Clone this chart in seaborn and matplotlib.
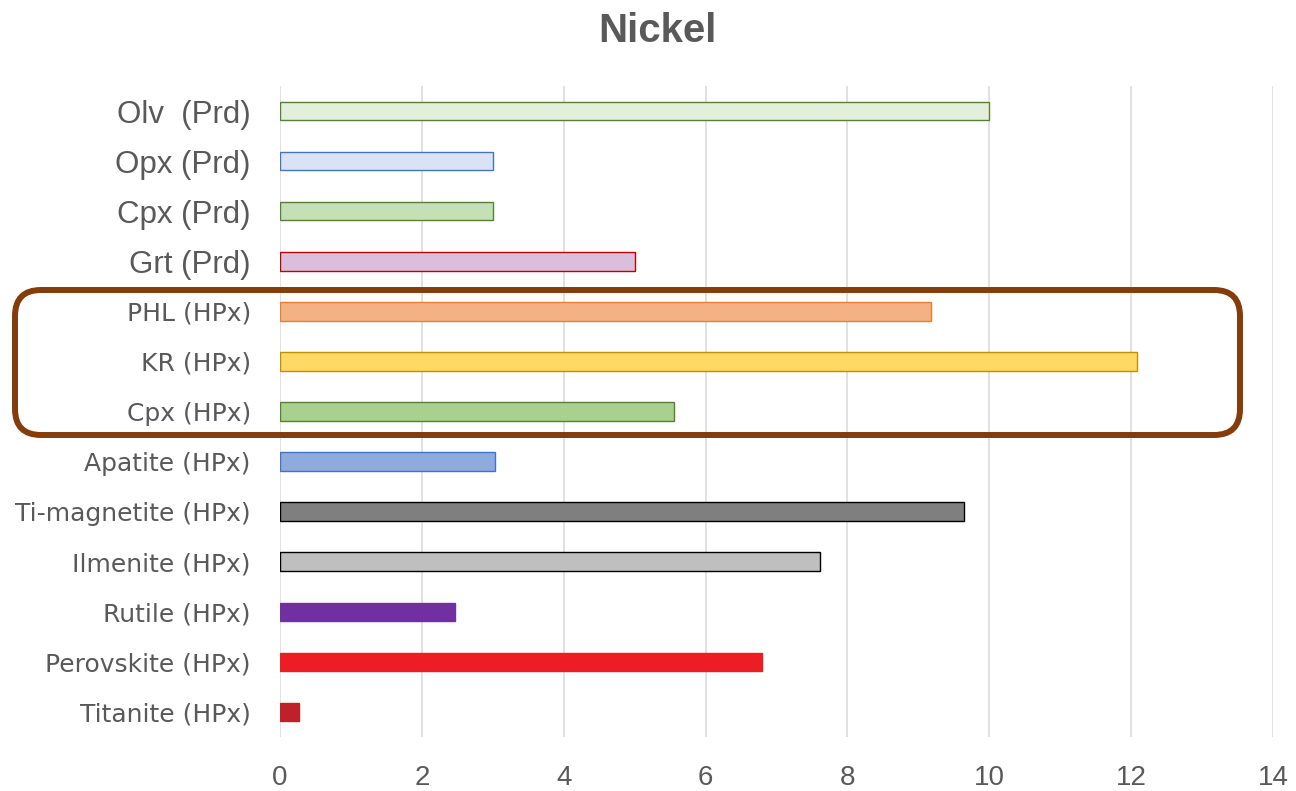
import matplotlib
matplotlib.use("Agg")
import matplotlib.pyplot as plt
from matplotlib.patches import FancyBboxPatch
import seaborn as sns
import pandas as pd

# Nickel partition data per mineral phase
minerals = [
    "Olv  (Prd)", "Opx (Prd)", "Cpx (Prd)", "Grt (Prd)",
    "PHL (HPx)", "KR (HPx)", "Cpx (HPx)", "Apatite (HPx)",
    "Ti-magnetite (HPx)", "Ilmenite (HPx)", "Rutile (HPx)",
    "Perovskite (HPx)", "Titanite (HPx)",
]
values = [10.0, 3.0, 3.0, 5.0, 9.18, 12.08, 5.55, 3.03, 9.64, 7.61, 2.47, 6.8, 0.27]
fill_colors = [
    "#E2EFDA", "#DAE3F3", "#C5E0B4", "#D9BFDC",
    "#F4B183", "#FFD966", "#A9D18E", "#8FAADC",
    "#7F7F7F", "#BFBFBF", "#7030A0", "#EE1C25", "#C0202A",
]
edge_colors = [
    "#548235", "#4472C4", "#548235", "#C00000",
    "#ED7D31", "#BF9000", "#548235", "#4472C4",
    "#000000", "#000000", "#7030A0", "#EE1C25", "#C0202A",
]
x_ticks = [0, 2, 4, 6, 8, 10, 12, 14]

df = pd.DataFrame({"mineral": minerals, "value": values})

sns.set_theme(style="white")
plt.rcParams["font.family"] = ["Liberation Sans", "DejaVu Sans"]

W, H = 1296, 791
fig = plt.figure(figsize=(W / 100, H / 100), dpi=100)
ax = fig.add_axes([280 / W, 1 - 737 / H, (1273 - 280) / W, 651 / H])

sns.barplot(
    data=df, x="value", y="mineral", hue="mineral",
    palette=dict(zip(minerals, fill_colors)), order=minerals,
    hue_order=minerals, legend=False, orient="h", width=0.37,
    saturation=1, ax=ax,
)
for cont, ec in zip(ax.containers, edge_colors):
    for bar in cont:
        bar.set_edgecolor(ec)
        bar.set_linewidth(1.0)

ax.set_xlim(0, 14)
ax.set_ylim(len(minerals) - 0.5, -0.5)
ax.set_xticks(x_ticks)
ax.set_xticklabels([str(t) for t in x_ticks])
ax.set_xlabel("")
ax.set_ylabel("")
ax.grid(axis="x", color="#D9D9D9", linewidth=1.1)
ax.grid(axis="y", visible=False)
ax.set_axisbelow(True)
for s in ax.spines.values():
    s.set_visible(False)

ax.tick_params(axis="x", length=0, pad=20, labelsize=20, labelcolor="#595959")
ax.tick_params(axis="y", length=0, pad=21, labelcolor="#595959")
for i, lbl in enumerate(ax.get_yticklabels()):
    if i < 4:
        lbl.set_fontfamily("Liberation Sans")
        lbl.set_fontsize(22.5)
    else:
        lbl.set_fontfamily("DejaVu Sans")
        lbl.set_fontsize(18)

fig.text(657 / W, 1 - 42 / H, "Nickel", ha="center", va="baseline",
         fontsize=29, fontweight="bold", color="#595959",
         family="Liberation Sans")

# Rounded frame around the HPx silicate group
frame = FancyBboxPatch(
    (0.15, (H - 435) / 100), 12.25, 1.45,
    boxstyle="round,pad=0,rounding_size=0.26",
    transform=fig.dpi_scale_trans, fill=False,
    edgecolor="#843C0C", linewidth=4.3, clip_on=False,
)
fig.patches.append(frame)

fig.savefig("out.png", dpi=100)
